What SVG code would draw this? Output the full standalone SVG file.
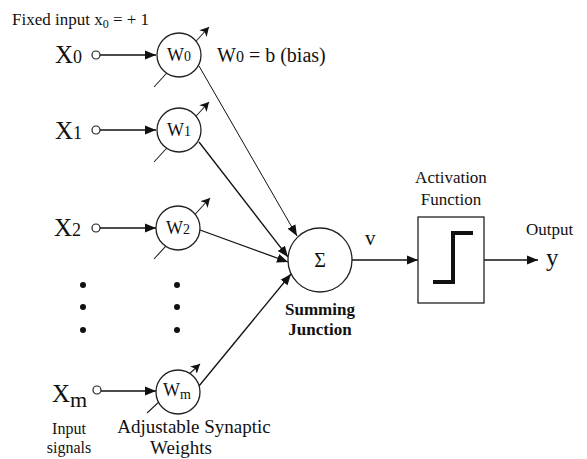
<svg xmlns="http://www.w3.org/2000/svg" width="587" height="459" viewBox="0 0 587 459">
<style>
text{font-family:"Liberation Serif","Times New Roman",serif;fill:#111}
.big{font-size:25px}
.sub{font-size:18px}
.lbl{font-size:17px}
.wt{font-size:18px}
.wsub{font-size:14px}
.node{fill:#fff;stroke:#222;stroke-width:1.3}
.src{fill:#fff;stroke:#222;stroke-width:1.2}
.con{fill:none;stroke:#111;stroke-width:1.3}
.thin{fill:none;stroke:#111;stroke-width:1}
.adj{fill:none;stroke:#222;stroke-width:1.1}
.dot{fill:#111}
</style>
<defs>
<marker id="arr" markerUnits="userSpaceOnUse" markerWidth="12" markerHeight="10" refX="11" refY="5" orient="auto">
<path d="M0,0.5 L11,5 L0,9.5 z" fill="#111"/>
</marker>
<marker id="adjhead" markerUnits="userSpaceOnUse" markerWidth="10" markerHeight="10" refX="9" refY="5" orient="auto">
<path d="M0,0 L9,5 L0,10 L2.5,5 z" fill="#111"/>
</marker>
</defs>

<text x="12" y="25" class="lbl">Fixed input x<tspan font-size="12" dy="3">0</tspan><tspan dy="-3"> = + 1</tspan></text>
<text x="217" y="62" style="font-size:20px">W<tspan font-size="16">0</tspan>  = b (bias)</text>

<g id="connectors">
<line class="con" x1="100" y1="55" x2="156" y2="55" marker-end="url(#arr)"/>
<line class="con" x1="100" y1="130" x2="156" y2="130" marker-end="url(#arr)"/>
<line class="con" x1="100" y1="228" x2="156" y2="228" marker-end="url(#arr)"/>
<line class="con" x1="101" y1="391" x2="156" y2="391" marker-end="url(#arr)"/>
<line class="thin" x1="199" y1="66" x2="297" y2="236" marker-end="url(#arr)"/>
<line class="con" x1="199" y1="142" x2="288" y2="257" marker-end="url(#arr)"/>
<line class="con" x1="200" y1="230" x2="288" y2="262" marker-end="url(#arr)"/>
<line class="con" x1="199" y1="386" x2="291" y2="274" marker-end="url(#arr)"/>
<line class="con" x1="352" y1="260" x2="418" y2="260" marker-end="url(#arr)"/>
<line class="con" x1="484" y1="260" x2="538" y2="260" marker-end="url(#arr)"/>
</g>

<g id="x0">
<text x="55" y="63" class="big">X<tspan class="sub">0</tspan></text>
<circle class="src" cx="96" cy="55" r="4"/>
</g>
<g id="x1">
<text x="55" y="139" class="big">X<tspan class="sub">1</tspan></text>
<circle class="src" cx="96" cy="130" r="4"/>
</g>
<g id="x2">
<text x="54" y="236" class="big">X<tspan class="sub">2</tspan></text>
<circle class="src" cx="96" cy="228" r="4"/>
</g>
<g id="xm">
<text x="52" y="402" class="big">X<tspan font-size="22" dy="5">m</tspan></text>
<circle class="src" cx="97" cy="390" r="4"/>
</g>

<g id="dots">
<circle class="dot" cx="83" cy="285" r="3"/>
<circle class="dot" cx="83" cy="307" r="3"/>
<circle class="dot" cx="83" cy="330" r="3"/>
<circle class="dot" cx="177" cy="285" r="3"/>
<circle class="dot" cx="177" cy="307" r="3"/>
<circle class="dot" cx="177" cy="330" r="3"/>
</g>

<g id="w0">
<line class="adj" x1="154" y1="87" x2="209" y2="27" marker-end="url(#adjhead)"/>
<circle class="node" cx="179" cy="55" r="22"/>
<text x="179" y="61" class="wt" text-anchor="middle">W<tspan class="wsub">0</tspan></text>
</g>
<g id="w1">
<line class="adj" x1="154" y1="162" x2="209" y2="102" marker-end="url(#adjhead)"/>
<circle class="node" cx="179" cy="130" r="22"/>
<text x="179" y="136" class="wt" text-anchor="middle">W<tspan class="wsub">1</tspan></text>
</g>
<g id="w2">
<line class="adj" x1="154" y1="259" x2="210" y2="198" marker-end="url(#adjhead)"/>
<circle class="node" cx="178" cy="228" r="22"/>
<text x="178" y="234" class="wt" text-anchor="middle">W<tspan class="wsub">2</tspan></text>
</g>
<g id="wm">
<line class="adj" x1="147" y1="413" x2="200" y2="364" marker-end="url(#adjhead)"/>
<circle class="node" cx="178" cy="392" r="22"/>
<text x="177" y="396" class="wt" text-anchor="middle">W<tspan class="wsub" dy="3">m</tspan></text>
</g>

<g id="sum">
<circle class="node" cx="320" cy="260" r="32"/>
<text x="320" y="267" text-anchor="middle" style="font-size:20px">Σ</text>
<text x="320" y="315" text-anchor="middle" class="lbl" font-weight="bold">Summing</text>
<text x="320" y="335" text-anchor="middle" class="lbl" font-weight="bold">Junction</text>
</g>
<text x="365" y="245" style="font-size:21px">v</text>

<g id="activation">
<rect x="418" y="217" width="66" height="86" fill="#fff" stroke="#222" stroke-width="1.3"/>
<polyline points="433,282 453,282 453,233 473,233" fill="none" stroke="#111" stroke-width="4"/>
<text x="451" y="183" text-anchor="middle" class="lbl">Activation</text>
<text x="451" y="205" text-anchor="middle" class="lbl">Function</text>
</g>

<g id="output">
<text x="526" y="235" class="lbl">Output</text>
<text x="546" y="266" style="font-size:25px">y</text>
</g>

<text x="69" y="434" text-anchor="middle" style="font-size:16px">Input</text>
<text x="69" y="453" text-anchor="middle" style="font-size:16px">signals</text>
<text x="194" y="433" text-anchor="middle" style="font-size:19px">Adjustable Synaptic</text>
<text x="181" y="454" text-anchor="middle" style="font-size:19px">Weights</text>
</svg>
